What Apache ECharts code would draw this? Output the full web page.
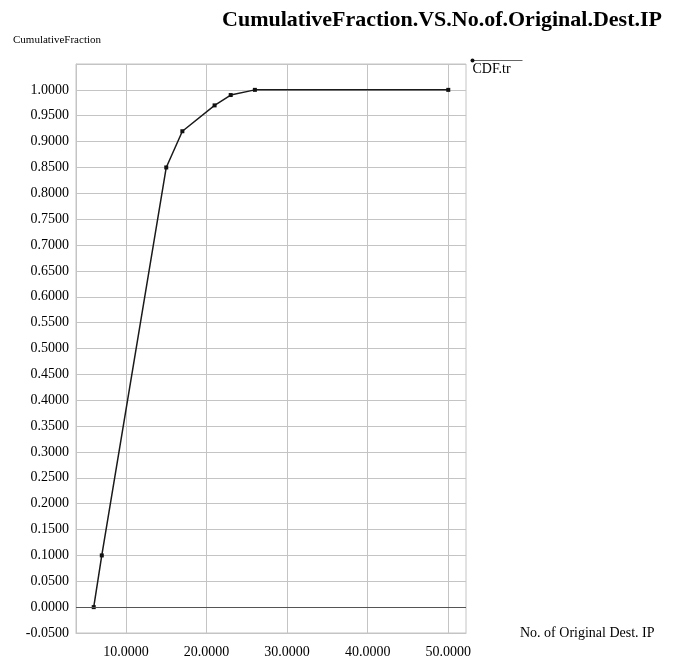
<!DOCTYPE html>
<html>
<head>
<meta charset="utf-8">
<script src="https://cdn.jsdelivr.net/npm/echarts@6/dist/echarts.min.js"></script>
<style>
  html, body { margin: 0; padding: 0; background: #fff; }
  #chart { width: 676px; height: 661px; }
</style>
</head>
<body>
<div id="chart"></div>
<script>
// data
const destIp = [6, 7, 15, 17, 21, 23, 26, 50];
const cdf = [0, 0.1, 0.85, 0.92, 0.97, 0.99, 1.0, 1.0];
const xTicks = [10, 20, 30, 40, 50];
const seriesName = 'CDF.tr';

const font = '"Liberation Serif", "DejaVu Serif", serif';
const gridColor = '#c4c4c4';

var myChart = echarts.init(document.getElementById('chart'), null, { renderer: 'canvas' });

const option = {
  backgroundColor: '#fff',
  animation: false,
  title: {
    text: 'CumulativeFraction.VS.No.of.Original.Dest.IP',
    right: 9,
    top: 4,
    textStyle: { fontFamily: font, fontSize: 22, fontWeight: 'bold', color: '#000' }
  },
  grid: {
    left: 76,
    right: 210,
    top: 64,
    bottom: 28,
    show: true,
    borderColor: gridColor,
    borderWidth: 1
  },
  xAxis: {
    type: 'value',
    min: 3.8,
    max: 52.2,
    name: 'No. of Original Dest. IP',
    nameLocation: 'end',
    nameGap: 54,
    nameTextStyle: { fontFamily: font, fontSize: 14, color: '#000', verticalAlign: 'middle' },
    axisLine: { onZero: false, lineStyle: { color: gridColor } },
    axisTick: { show: false, customValues: xTicks },
    axisLabel: {
      customValues: xTicks,
      margin: 12,
      fontFamily: font,
      fontSize: 14,
      color: '#000',
      formatter: v => v.toFixed(4)
    },
    splitLine: { show: true, lineStyle: { color: gridColor, width: 1 } }
  },
  yAxis: {
    type: 'value',
    min: -0.05,
    max: 1.05,
    interval: 0.05,
    name: 'CumulativeFraction',
    nameLocation: 'end',
    nameGap: 24,
    nameTextStyle: {
      fontFamily: font, fontSize: 11, color: '#000',
      align: 'center', verticalAlign: 'middle', padding: [0, 38, 0, 0]
    },
    axisLine: { show: true, lineStyle: { color: gridColor } },
    axisTick: { show: false },
    axisLabel: {
      margin: 7,
      showMaxLabel: false,
      fontFamily: font,
      fontSize: 14,
      color: '#000',
      formatter: v => v.toFixed(4)
    },
    splitLine: { show: true, lineStyle: { color: gridColor, width: 1 } }
  },
  series: [
    {
      name: seriesName,
      type: 'line',
      data: destIp.map((x, i) => [x, cdf[i]]),
      symbol: 'rect',
      symbolSize: 4,
      color: '#111',
      lineStyle: { color: '#1a1a1a', width: 1.5 },
      itemStyle: { color: '#111' },
      markLine: {
        silent: true,
        symbol: 'none',
        label: { show: false },
        lineStyle: { color: '#555', type: 'solid', width: 1 },
        data: [{ yAxis: 0 }]
      }
    }
  ],
  graphic: [
    {
      type: 'group',
      left: 470,
      top: 58,
      children: [
        { type: 'line', shape: { x1: 2, y1: 4, x2: 52, y2: 4 }, style: { stroke: '#666', lineWidth: 1.2 } },
        { type: 'circle', shape: { cx: 2, cy: 4, r: 2 }, style: { fill: '#111' } },
        { type: 'text', x: 2, y: 6, style: { text: seriesName, font: '14px ' + font, fill: '#000' } }
      ]
    }
  ]
};

option && myChart.setOption(option);
</script>
</body>
</html>
